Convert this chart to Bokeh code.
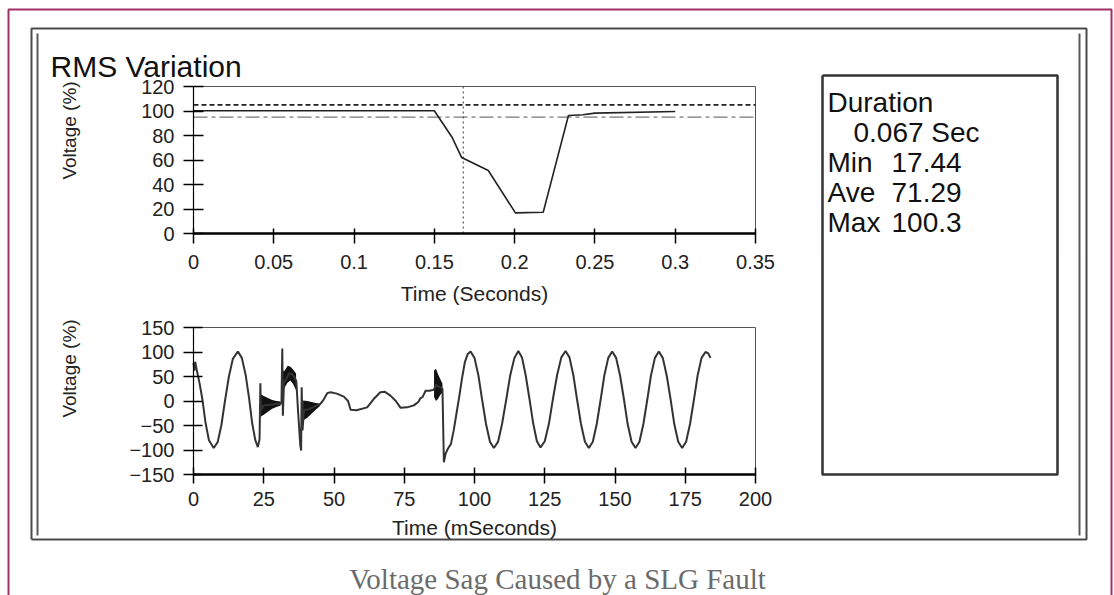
import math
from bokeh.plotting import figure
from bokeh.models import Range1d, LinearAxis, FixedTicker
from bokeh.core.properties import value
from bokeh.embed import file_html
from bokeh.resources import INLINE

# ---------------- data ----------------
# RMS variation (top chart): time in seconds, voltage in %
rms_t = [0.0, 0.150, 0.161, 0.167, 0.1836, 0.2005, 0.2178, 0.2335, 0.2426, 0.2500, 0.3000]
rms_v = [100.2, 100.2, 78.6, 62.0, 51.4, 16.8, 17.4, 96.3, 97.0, 98.3, 99.6]
upper_limit = 105.0
lower_limit = 95.0
cursor_t = 0.168

top_x_ticks = [0.0, 0.05, 0.1, 0.15, 0.2, 0.25, 0.3, 0.35]
top_x_labels = ["0", "0.05", "0.1", "0.15", "0.2", "0.25", "0.3", "0.35"]
top_y_ticks = [0, 20, 40, 60, 80, 100, 120]
top_y_labels = ["0", "20", "40", "60", "80", "100", "120"]

# Waveform (bottom chart): time in ms, voltage in %
wave_t = [0.0, 0.3, 0.6, 1.2, 2.2, 3.2, 4.3, 5.5, 7.2, 8.6, 9.9, 11.2, 12.6, 14.0, 15.8,
          17.2, 18.6, 19.8, 20.9, 22.0, 22.9, 23.5, 23.8, 24.0, 25.0, 26.5, 28.0, 29.5,
          31.0, 31.3, 31.6, 31.8, 32.2, 33.0, 34.0, 35.0, 36.0, 36.6, 37.2, 38.0, 38.3,
          38.5, 38.8, 39.3, 40.5, 42.0, 43.5, 45.0, 46.2, 47.6, 48.8, 51.0, 53.5, 55.0,
          55.9, 58.0, 61.8, 64.2, 66.5, 68.0, 70.1, 72.0, 73.7, 76.0, 78.4, 80.0, 80.8,
          81.5, 82.6, 84.0, 85.5, 86.3, 87.0, 87.8, 88.6, 89.1, 89.7, 90.3, 90.9, 91.6,
          92.6, 93.6, 94.6, 95.6, 96.6, 97.6, 98.6,
          100.0, 101.4, 102.7, 104.1, 105.5, 106.9,
          108.4, 109.8, 111.3, 112.7, 114.2, 115.6,
          116.9, 118.2, 119.6, 120.9, 122.2, 123.5,
          125.0, 126.5, 127.9, 129.4, 130.9, 132.4,
          133.8, 135.2, 136.5, 137.9, 139.3, 140.7,
          142.1, 143.5, 144.9, 146.2, 147.6, 149.0,
          150.4, 151.8, 153.2, 154.5, 155.9, 157.3,
          158.7, 160.1, 161.5, 162.8, 164.2, 165.6,
          167.0, 168.4, 169.8, 171.1, 172.5, 173.9,
          175.3, 176.7, 178.1, 179.4, 180.8, 182.2,
          183.2, 184.0]
wave_v = [78, 62, 80, 62, 35, 2, -45, -80, -96, -84, -50, 0, 50, 86, 101,
          88, 52, 5, -46, -80, -94, -78, 36, -20, -9, -8, -7, -6,
          -5, -5, 107, -30, 38, 45, 56, 55, 48, 40, -20, -90, -101,
          28, -60, -18, -18, -14, -10, -7, 2, 16, 18, 15, 9, 0,
          -18, -19, -13, 4.5, 18, 19, 11, 0, -14, -13, -9, -2, 6,
          8, 21, 21, 23, 33, 30, 28, 25, -125, -108, -100, -94, -88,
          -60, -25, 10, 48, 80, 96, 101,
          88, 52, 3, -47, -83, -96,
          -83, -47, 3, 52, 88, 102,
          89, 53, 3, -46, -82, -95,
          -82, -46, 4, 53, 89, 102,
          89, 52, 3, -47, -83, -96,
          -83, -47, 3, 52, 88, 101,
          88, 52, 3, -47, -83, -96,
          -83, -47, 3, 52, 88, 101,
          88, 52, 3, -47, -83, -96,
          -83, -47, 3, 52, 88, 100,
          97, 88]

# Noisy (high-frequency) bursts: envelope
burst_t = [[23.9, 25.0, 26.5, 28.0, 29.5, 31.0],
           [31.8, 32.5, 33.5, 34.5, 35.5, 36.5],
           [39.0, 40.5, 42.0, 43.5, 45.0],
           [85.6, 86.3, 87.0, 87.8, 88.6]]
burst_hi = [[14, 10, 6, 2, 0, -1],
            [60, 62, 72, 70, 64, 56],
            [1, 0, -2, -4, -5],
            [62, 66, 55, 45, 35]]
burst_lo = [[-32, -28, -22, -16, -12, -9],
            [18, 28, 38, 42, 34, 22],
            [-40, -34, -26, -18, -10],
            [8, 0, 4, 12, 18]]

bot_x_ticks = [0, 25, 50, 75, 100, 125, 150, 175, 200]
bot_x_labels = ["0", "25", "50", "75", "100", "125", "150", "175", "200"]
bot_y_ticks = [-150, -100, -50, 0, 50, 100, 150]
bot_y_labels = ["\u2212150", "\u2212100", "\u221250", "0", "50", "100", "150"]

title_text = "RMS Variation"
y_label = "Voltage (%)"
top_x_label = "Time (Seconds)"
bot_x_label = "Time (mSeconds)"
caption = "Voltage Sag Caused by a SLG Fault"
duration_sec = 0.067
stat_names = ["Min", "Ave", "Max"]
stat_values = ["17.44", "71.29", "100.3"]

# ---------------- layout (pixels) ----------------
W, H = 1114, 595
TOP = dict(l=193, r=755, t=86, b=233)
BOT = dict(l=193, r=755, t=327, b=474)
SANS = "Liberation Sans"


def x_range_for(box, d0, d1):
    k = (d1 - d0) / (box["r"] - box["l"])
    return Range1d(start=d0 - box["l"] * k, end=d0 + (W - box["l"]) * k)


def y_range_for(box, d0, d1):
    k = (d1 - d0) / (box["b"] - box["t"])
    return Range1d(start=d0 - (H - box["b"]) * k, end=d0 + box["b"] * k)


p = figure(width=W, height=H, x_range=Range1d(0, W), y_range=Range1d(H, 0),
           x_axis_type=None, y_axis_type=None, min_border=0,
           toolbar_location=None, output_backend="svg",
           outline_line_color=None, background_fill_color="white",
           border_fill_color="white")
p.extra_x_ranges = {"xt": x_range_for(TOP, top_x_ticks[0], top_x_ticks[-1]),
                    "xb": x_range_for(BOT, bot_x_ticks[0], bot_x_ticks[-1])}
p.extra_y_ranges = {"yt": y_range_for(TOP, top_y_ticks[0], top_y_ticks[-1]),
                    "yb": y_range_for(BOT, bot_y_ticks[0], bot_y_ticks[-1])}

# ---------------- page decoration ----------------
mag = "#a0306a"
p.line(x=[8, 8, 1111, 1111], y=[H, 9, 9, H], line_color=mag, line_width=2)
p.line(x=[31, 31, 1086, 1086, 31], y=[539, 28, 28, 539, 539], line_color="#4a4a4a", line_width=2)
p.line(x=[37, 37], y=[33, 535], line_color="#5a5a5a", line_width=2)
p.line(x=[1079, 1079], y=[33, 535], line_color="#5a5a5a", line_width=2)
# stats box
p.line(x=[822, 1057, 1057, 822, 822], y=[75, 75, 474, 474, 75], line_color="#333333", line_width=2.5)

p.text(x=[50], y=[66], text=[title_text], text_font=value(SANS), text_font_size="30px",
       text_color="#111111", text_baseline="alphabetic")

stat_y = [162, 192, 222]
p.text(x=[827], y=[102], text=["Duration"], text_font=value(SANS), text_font_size="28px",
       text_color="#111111", text_baseline="alphabetic")
p.text(x=[853], y=[132], text=[f"{duration_sec:.3f} Sec"], text_font=value(SANS),
       text_font_size="28px", text_color="#111111", text_baseline="alphabetic")
p.text(x=[827] * 3, y=stat_y, text=stat_names, text_font=value(SANS), text_font_size="28px",
       text_color="#111111", text_baseline="alphabetic")
p.text(x=[891] * 3, y=stat_y, text=stat_values, text_font=value(SANS), text_font_size="28px",
       text_color="#111111", text_baseline="alphabetic")

p.text(x=[69, 69], y=[130, 368], text=[y_label, y_label], angle=math.pi / 2,
       text_font=value(SANS), text_font_size="19px", text_color="#222222",
       text_align="center", text_baseline="middle")
p.text(x=[474], y=[293], text=[top_x_label], text_font=value(SANS), text_font_size="21px",
       text_color="#222222", text_align="center", text_baseline="alphabetic")
p.text(x=[474], y=[527], text=[bot_x_label], text_font=value(SANS), text_font_size="21px",
       text_color="#222222", text_align="center", text_baseline="alphabetic")
p.text(x=[557], y=[578], text=[caption], text_font=value("Liberation Serif"),
       text_font_size="29px", text_color="#6b6b6b", text_align="center",
       text_baseline="alphabetic")

# ---------------- top chart ----------------
p.quad(left=[top_x_ticks[0]], right=[top_x_ticks[-1]], bottom=[top_y_ticks[0]], top=[top_y_ticks[-1]],
       fill_color=None, line_color="#555555", line_width=1,
       x_range_name="xt", y_range_name="yt")
p.line(x=[top_x_ticks[0], top_x_ticks[-1]], y=[upper_limit, upper_limit], line_color="#222222",
       line_width=1.6, line_dash="5 3", x_range_name="xt", y_range_name="yt")
p.line(x=[top_x_ticks[0], top_x_ticks[-1]], y=[lower_limit, lower_limit], line_color="#777777",
       line_width=1.4, line_dash="14 4 4 4", x_range_name="xt", y_range_name="yt")
p.line(x=[cursor_t, cursor_t], y=[top_y_ticks[0], top_y_ticks[-1]], line_color="#555555",
       line_width=1.2, line_dash="2 3", x_range_name="xt", y_range_name="yt")
p.line(x=rms_t, y=rms_v, line_color="#222222", line_width=1.6,
       x_range_name="xt", y_range_name="yt")

# ---------------- bottom chart ----------------
p.quad(left=[bot_x_ticks[0]], right=[bot_x_ticks[-1]], bottom=[bot_y_ticks[0]], top=[bot_y_ticks[-1]],
       fill_color=None, line_color="#555555", line_width=1,
       x_range_name="xb", y_range_name="yb")
for bt, bh, bl in zip(burst_t, burst_hi, burst_lo):
    p.varea(x=bt, y1=bl, y2=bh, fill_color="#111111", x_range_name="xb", y_range_name="yb")
p.line(x=wave_t, y=wave_v, line_color="#333333", line_width=2,
       x_range_name="xb", y_range_name="yb")


# ---------------- axes ----------------
def add_axis(side, xr, yr, loc, ticks, labels, line_w, t_in, t_out, standoff):
    ax = LinearAxis(x_range_name=xr, y_range_name=yr, fixed_location=loc,
                    bounds=(ticks[0], ticks[-1]),
                    ticker=FixedTicker(ticks=ticks, minor_ticks=[]),
                    major_label_overrides={t: l for t, l in zip(ticks, labels)},
                    axis_line_color="black", axis_line_width=line_w,
                    major_tick_line_color="black", major_tick_line_width=1.5,
                    major_tick_in=t_in, major_tick_out=t_out,
                    minor_tick_in=0, minor_tick_out=0,
                    major_label_text_font=SANS, major_label_text_font_size="20px",
                    major_label_text_color="#222222", major_label_standoff=standoff)
    p.add_layout(ax, side)


add_axis("below", "xt", "yt", top_y_ticks[0], top_x_ticks, top_x_labels, 2.5, 5, 10, 11)
add_axis("left", "xt", "yt", top_x_ticks[0], top_y_ticks, top_y_labels, 1.2, 10, 10, 9)
add_axis("below", "xb", "yb", bot_y_ticks[0], bot_x_ticks, bot_x_labels, 2.5, 7, 9, 8)
add_axis("left", "xb", "yb", bot_x_ticks[0], bot_y_ticks, bot_y_labels, 1.2, 9, 10, 9)

open("out.html", "w").write(file_html(p, INLINE))
